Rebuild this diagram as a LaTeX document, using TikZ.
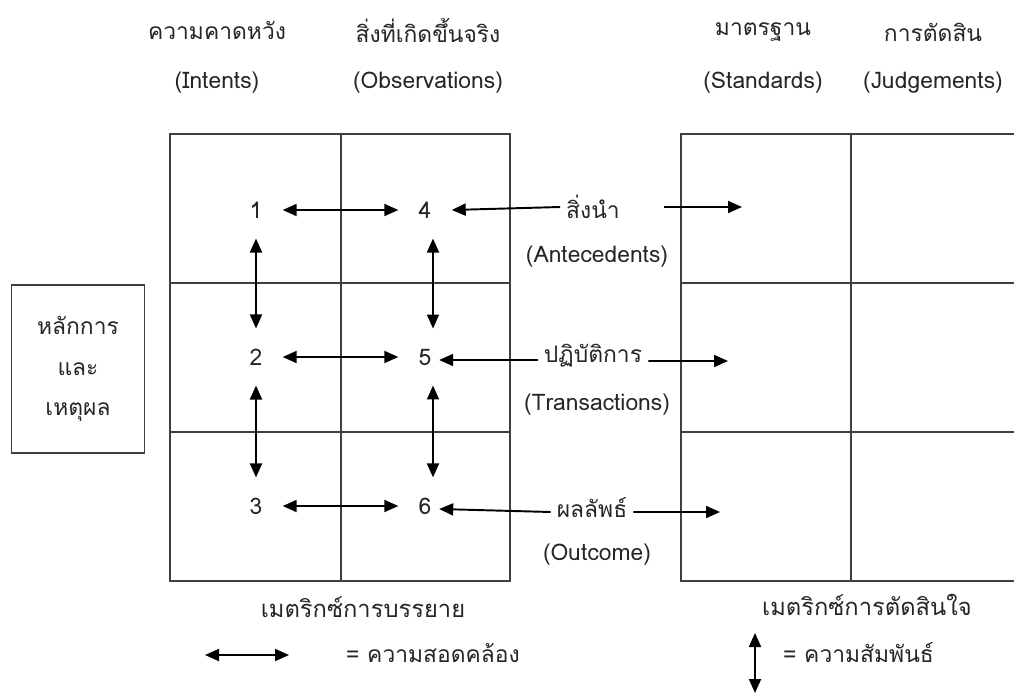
\documentclass[tikz,border=0pt]{standalone}
\usepackage{fontspec}
\setmainfont[Script=Thai]{Loma}
\usetikzlibrary{arrows.meta}

\begin{document}
\begin{tikzpicture}[x=0.02cm,y=-0.02cm,
    grid/.style={draw=black!75,line width=1pt},
    num/.style={inner sep=0.4cm},
    arr/.style={-{Triangle[length=2.8mm,width=2.4mm]},line width=1.1pt},
    dbl/.style={{Triangle[length=2.8mm,width=2.4mm]}-{Triangle[length=2.8mm,width=2.4mm]},line width=1.1pt}]
            \tikzstyle{every node}=[font=\fontsize{13}{16}\selectfont,text=black!85]
            \useasboundingbox (0,0) rectangle (1014,693);

            % headers
            \node (hint) at (217,30) {ความคาดหวัง};
            \node (hinte) at (217,83) {(Intents)};
            \node (hobs) at (428,30) {สิ่งที่เกิดขึ้นจริง};
            \node (hobse) at (428,83) {(Observations)};
            \node (hstd) at (763,32) {มาตรฐาน};
            \node (hstde) at (763,83) {(Standards)};
            \node (hjud) at (933,32) {การตัดสิน};
            \node (hjude) at (933,83) {(Judgements)};

            % matrices
            \draw[grid] (170,134) rectangle (510,581);
            \draw[grid] (341,134) -- (341,581);
            \draw[grid] (170,283) -- (510,283) (170,432) -- (510,432);
            \draw[grid] (1030,134) -- (681,134) -- (681,581) -- (1030,581);
            \draw[grid] (851,134) -- (851,581);
            \draw[grid] (681,283) -- (1030,283) (681,432) -- (1030,432);

            % rationale
            \node[grid,minimum width=2.66cm,minimum height=3.36cm,align=center,
                  font=\fontsize{13}{23}\selectfont] (rat) at (78,369) {หลักการ\\และ\\เหตุผล};

            % cells
            \node[num] (n1) at (256,210) {1};
            \node[num] (n2) at (256,357) {2};
            \node[num] (n3) at (256,506) {3};
            \node[num] (n4) at (425,210) {4};
            \node[num] (n5) at (425,357) {5};
            \node[num] (n6) at (425,506) {6};

            \node (ante) at (593,207) {สิ่งนำ};
            \node (antee) at (597,257) {(Antecedents)};
            \node (trans) at (593,356) {ปฏิบัติการ};
            \node (transe) at (597,405) {(Transactions)};
            \node (outc) at (592,508) {ผลลัพธ์};
            \node (outce) at (597,555) {(Outcome)};

            \coordinate (s1) at (742,207);
            \coordinate (s2) at (728,361);
            \coordinate (s3) at (720,512);

            % congruence
            \draw[dbl] (n1) -- (n4);
            \draw[dbl] (n2) -- (n5);
            \draw[dbl] (n3) -- (n6);
            % contingency
            \draw[dbl] (n1) -- (n2);
            \draw[dbl] (n2) -- (n3);
            \draw[dbl] ([xshift=0.16cm]n4.south) -- ([xshift=0.16cm]n5.north);
            \draw[dbl] ([xshift=0.16cm]n5.south) -- ([xshift=0.16cm]n6.north);

            \draw[arr] (ante.west) -- (n4.east);
            \draw[arr] ([yshift=-0.08cm]trans.west) -- ([xshift=-0.25cm,yshift=-0.06cm]n5.east);
            \draw[arr] ([yshift=-0.08cm]outc.west) -- ([xshift=-0.25cm,yshift=-0.06cm]n6.east);
            \draw[arr] ([xshift=0.76cm]ante.east) -- (s1);
            \draw[arr] ([yshift=-0.1cm]trans.east) -- (s2);
            \draw[arr] ([yshift=-0.08cm]outc.east) -- (s3);

            % captions and legend
            \node[font=\fontsize{13.5}{16}\selectfont] (capd) at (363,607) {เมตริกซ์การบรรยาย};
            \node[font=\fontsize{13.5}{16}\selectfont] (capj) at (867,605) {เมตริกซ์การตัดสินใจ};
            \coordinate (la) at (205,655);
            \coordinate (lb) at (289,655);
            \draw[dbl] (la) -- (lb);
            \node[anchor=west] (lcon) at (340,653) {= ความสอดคล้อง};
            \coordinate (lc) at (755,633);
            \coordinate (ld) at (755,693);
            \draw[dbl] (lc) -- (ld);
            \node[anchor=west] (lrel) at (777,653) {= ความสัมพันธ์};
        \end{tikzpicture}
\end{document}
